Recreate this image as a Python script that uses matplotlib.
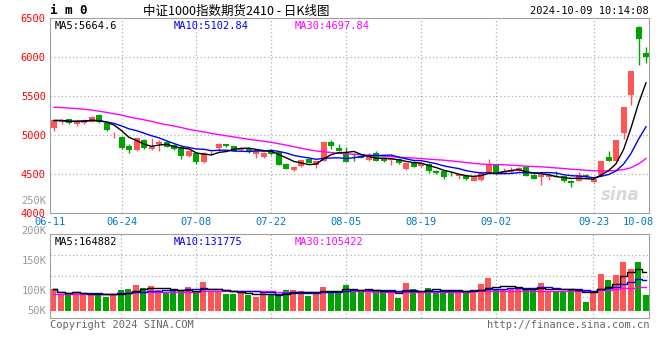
import numpy as np
import pandas as pd
import matplotlib
matplotlib.use('Agg')
import matplotlib.pyplot as plt

# Daily K-line of the CSI 1000 index future (IM2410), 2024-06-11 .. 2024-10-09.
# Trading calendar: business days minus Mid-Autumn and National Day holidays.
dates = pd.bdate_range('2024-06-11', '2024-10-09')
holidays = pd.to_datetime(['2024-09-16', '2024-09-17', '2024-10-01', '2024-10-02',
                           '2024-10-03', '2024-10-04', '2024-10-07'])
dates = dates.drop(holidays)
day_labels = list(dates.strftime('%m-%d'))

opens = [5085, 5161, 5203, 5135, 5152, 5169, 5254, 5152, 4983, 4975,
         4856, 4805, 4941, 4822, 4882, 4907, 4873, 4848, 4729, 4772,
         4653, 4763, 4831, 4882, 4856, 4805, 4831, 4755, 4712, 4793,
         4780, 4628, 4552, 4602, 4695, 4611, 4670, 4907, 4831, 4785,
         4735, 4727, 4680, 4765, 4697, 4680, 4697, 4560, 4654, 4603,
         4628, 4534, 4534, 4487, 4474, 4474, 4415, 4423, 4517, 4611,
         4509, 4526, 4543, 4594, 4492, 4457, 4457, 4474, 4474, 4415,
         4415, 4483, 4398, 4483, 4714, 4662, 5021, 5517, 6389, 6056]
highs = [5190, 5203, 5211, 5195, 5211, 5245, 5271, 5169, 5042, 4983,
         4882, 4966, 4950, 4958, 4941, 4924, 4890, 4856, 4814, 4780,
         4780, 4790, 4898, 4890, 4865, 4840, 4840, 4820, 4780, 4810,
         4790, 4640, 4590, 4685, 4705, 4670, 4915, 4941, 4890, 4842,
         4765, 4740, 4765, 4800, 4705, 4705, 4705, 4645, 4665, 4645,
         4635, 4545, 4540, 4520, 4505, 4480, 4470, 4543, 4697, 4628,
         4577, 4594, 4594, 4603, 4500, 4490, 4500, 4535, 4480, 4425,
         4520, 4500, 4440, 4670, 4799, 4940, 5363, 5825, 6395, 6132]
lows = [5050, 5144, 5144, 5118, 5135, 5165, 5152, 5050, 4958, 4822,
        4763, 4797, 4822, 4814, 4797, 4840, 4814, 4687, 4712, 4628,
        4636, 4750, 4797, 4848, 4790, 4797, 4772, 4704, 4700, 4750,
        4610, 4560, 4535, 4595, 4640, 4577, 4665, 4822, 4790, 4650,
        4671, 4700, 4671, 4663, 4660, 4620, 4630, 4550, 4590, 4595,
        4510, 4505, 4440, 4470, 4440, 4425, 4405, 4415, 4510, 4500,
        4500, 4515, 4535, 4470, 4432, 4364, 4420, 4460, 4400, 4330,
        4405, 4450, 4390, 4475, 4662, 4650, 4944, 5389, 5902, 5927]
closes = [5186, 5186, 5152, 5178, 5186, 5237, 5161, 5059, 4991, 4831,
          4805, 4958, 4831, 4848, 4915, 4848, 4822, 4729, 4797, 4653,
          4772, 4771, 4890, 4856, 4797, 4831, 4780, 4814, 4772, 4759,
          4619, 4569, 4585, 4679, 4645, 4662, 4907, 4856, 4797, 4660,
          4727, 4710, 4740, 4671, 4663, 4697, 4637, 4637, 4594, 4637,
          4534, 4509, 4466, 4483, 4500, 4432, 4466, 4517, 4620, 4509,
          4543, 4534, 4577, 4475, 4440, 4483, 4483, 4457, 4406, 4389,
          4491, 4457, 4432, 4662, 4671, 4936, 5363, 5825, 6227, 5996]
# 30-day average (needs history before the window)
ma30 = [5356, 5352, 5345, 5338, 5330, 5320, 5305, 5290, 5272, 5255,
        5232, 5212, 5195, 5175, 5150, 5132, 5115, 5095, 5072, 5055,
        5040, 5020, 5005, 4990, 4975, 4960, 4945, 4932, 4920, 4905,
        4888, 4870, 4850, 4830, 4810, 4795, 4785, 4775, 4765, 4760,
        4752, 4747, 4740, 4735, 4728, 4722, 4716, 4710, 4705, 4698,
        4690, 4684, 4677, 4668, 4658, 4647, 4636, 4628, 4622, 4620,
        4618, 4614, 4608, 4600, 4596, 4592, 4585, 4578, 4570, 4562,
        4555, 4548, 4542, 4540, 4540, 4545, 4556, 4580, 4630, 4698]

# volume in thousands of lots
volume_k = [103.3, 95.0, 93.9, 98.3, 95.0, 95.0, 96.0, 90.0, 95.0, 101.6,
            103.3, 110.0, 105.0, 108.3, 101.6, 98.3, 99.4, 99.4, 106.6, 98.3,
            115.0, 99.4, 99.4, 95.0, 95.0, 99.4, 93.9, 90.5, 97.2, 95.0,
            92.7, 101.6, 101.6, 100.0, 92.2, 98.0, 106.6, 100.6, 100.6, 110.0,
            100.6, 100.6, 101.6, 99.4, 96.1, 99.4, 88.9, 113.3, 103.3, 97.2,
            105.0, 100.6, 101.6, 101.6, 97.2, 96.1, 100.6, 111.6, 121.6, 103.3,
            103.3, 105.0, 103.3, 101.6, 101.6, 113.3, 100.6, 100.6, 100.6, 103.3,
            103.3, 82.2, 100.6, 128.3, 118.3, 126.7, 148.9, 136.6, 148.9, 93.3]
vol_ma30_k = [95, 95, 95, 95, 95, 95, 95.5, 95.5, 95.5, 96,
              98, 98, 98, 98.5, 98.5, 98.5, 98.5, 98.5, 99, 99,
              99.5, 99.5, 99.5, 99.5, 99.5, 99.5, 99.5, 99.5, 99.5, 99.5,
              99, 99, 99, 99, 99, 99, 99, 99, 99, 99.5,
              99.5, 99.5, 99.5, 99, 98, 98, 98, 98, 98, 98.5,
              99, 99, 99, 99, 99, 99, 100, 100, 100.5, 100.5,
              100.5, 100.5, 100.5, 100.5, 100.5, 100.5, 100.5, 100.5, 100.5, 100.5,
              100.5, 100, 100, 101, 102.5, 103.5, 104.5, 105.5, 106.5, 106.7]

grid_days = ['06-24', '07-08', '07-22', '08-05', '08-19', '09-02', '09-23']
shown_days = ['06-11'] + grid_days + ['10-08']

RED = '#ff5555'
GREEN = '#00a400'
MONO = 'DejaVu Sans Mono'
FS = 7.5

o = np.array(opens, float)
h = np.array(highs, float)
l = np.array(lows, float)
c = np.array(closes, float)
vol = np.array(volume_k)
x = np.arange(len(c))
up = c >= o
colors = np.where(up, RED, GREEN)

ma5 = pd.Series(c).rolling(5, min_periods=1).mean()
ma10 = pd.Series(c).rolling(10, min_periods=1).mean()
vma5 = pd.Series(vol).rolling(5, min_periods=1).mean()
vma10 = pd.Series(vol).rolling(10, min_periods=1).mean()

W, H = 660, 360
fig = plt.figure(figsize=(W / 100, H / 100), dpi=100)


def box(left, top, right, bottom):
    return [left / W, 1 - bottom / H, (right - left) / W, (bottom - top) / H]


def ftext(px, py, s, **kw):
    fig.text(px / W, 1 - py / H, s, **kw)


ax = fig.add_axes(box(50, 18, 649, 213))
vax = fig.add_axes(box(50, 234, 649, 318))
xlim = (-0.44, 79.4)
grid_x = [day_labels.index(d) for d in grid_days]

# ---- price panel
for yv in [4500, 5000, 5500, 6000]:
    ax.axhline(yv, color='#b0b0b0', lw=0.9, ls=(0, (1, 2)), zorder=0)
for gx in grid_x:
    ax.axvline(gx, color='#b0b0b0', lw=0.9, ls=(0, (1, 2)), zorder=0)

ax.vlines(x, l, h, colors=colors, lw=1, zorder=2)
body = np.maximum(np.abs(c - o), 8)
ax.bar(x, body, bottom=np.minimum(o, c), width=0.8, color=colors, zorder=3)

ax.plot(x, ma30, color='#ff00ff', lw=1, zorder=4)
ax.plot(x, ma10, color='#0000ff', lw=1, zorder=4)
ax.plot(x, ma5, color='black', lw=1, zorder=4)

ax.set_xlim(*xlim)
ax.set_ylim(4000, 6500)
ax.set_yticks([4000, 4500, 5000, 5500, 6000, 6500])
ax.set_yticklabels(['4000', '4500', '5000', '5500', '6000', '6500'],
                   family=MONO, fontsize=FS, color='#ff0000')
tick_pos = [-0.55 if d == '06-11' else day_labels.index(d) for d in shown_days]
ax.set_xticks(tick_pos)
ax.set_xticklabels(shown_days, family=MONO, fontsize=FS, color='#0077cc')
ax.tick_params(axis='x', length=0, pad=3)
ax.tick_params(axis='y', length=0, pad=3)
for sp in ax.spines.values():
    sp.set_color('#a0a0a0')

ax.text(0.007, 0.985, 'MA5:5664.6', transform=ax.transAxes, family=MONO,
        fontsize=FS, color='black', va='top')
ax.text(0.207, 0.985, 'MA10:5102.84', transform=ax.transAxes, family=MONO,
        fontsize=FS, color='#0000ff', va='top')
ax.text(0.409, 0.985, 'MA30:4697.84', transform=ax.transAxes, family=MONO,
        fontsize=FS, color='#ff00ff', va='top')
ax.text(0.985, 0.09, 'sina', transform=ax.transAxes, fontsize=12,
        fontweight='bold', style='italic', color='#d8d8d8', ha='right',
        va='center', zorder=1)

# ---- volume panel
vol_base = 67.2
for frac in [0.25, 0.5, 0.75]:
    vax.axhline(55 + 140 * frac, color='#b0b0b0', lw=0.9, ls=(0, (1, 2)), zorder=0)
for gx in grid_x:
    vax.axvline(gx, color='#b0b0b0', lw=0.9, ls=(0, (1, 2)), zorder=0)
vax.bar(x, vol - vol_base, bottom=vol_base, width=0.8, color=colors, zorder=2)
vax.plot(x, vol_ma30_k, color='#ff00ff', lw=1, drawstyle='steps-mid', zorder=3)
vax.plot(x, vma10, color='#0000ff', lw=1, drawstyle='steps-mid', zorder=3)
vax.plot(x, vma5, color='black', lw=1, drawstyle='steps-mid', zorder=3)
vax.set_xlim(*xlim)
vax.set_ylim(55, 195)
vax.set_xticks([])
vax.set_yticks([])
for sp in vax.spines.values():
    sp.set_color('#a0a0a0')
for val, lab in [(250, '250K'), (200, '200K'), (150, '150K'), (100, '100K'),
                 (vol_base, '50K')]:
    vax.text(-0.006, val, lab, transform=vax.get_yaxis_transform(), family=MONO,
             fontsize=FS, color='#999999', ha='right', va='center', clip_on=False)

vax.text(0.007, 0.97, 'MA5:164882', transform=vax.transAxes, family=MONO,
         fontsize=FS, color='black', va='top')
vax.text(0.207, 0.97, 'MA10:131775', transform=vax.transAxes, family=MONO,
         fontsize=FS, color='#0000ff', va='top')
vax.text(0.409, 0.97, 'MA30:105422', transform=vax.transAxes, family=MONO,
         fontsize=FS, color='#ff00ff', va='top')

# ---- header / footer
ftext(50, 11, 'i m 0', family=MONO, fontsize=9, fontweight='bold', va='center')
ftext(236, 11, '中证1000指数期货2410 - 日K线图',
      family=['Noto Sans CJK SC', 'DejaVu Sans'], fontsize=9, ha='center',
      va='center')
ftext(649, 11, '2024-10-09 10:14:08', family=MONO, fontsize=FS, ha='right',
      va='center')
ftext(50, 325, 'Copyright 2024 SINA.COM', family=MONO, fontsize=FS,
      color='#666666', va='center')
ftext(649, 325, 'http://finance.sina.com.cn', family=MONO, fontsize=FS,
      color='#666666', ha='right', va='center')

fig.savefig('out.png', dpi=100, facecolor='white')
